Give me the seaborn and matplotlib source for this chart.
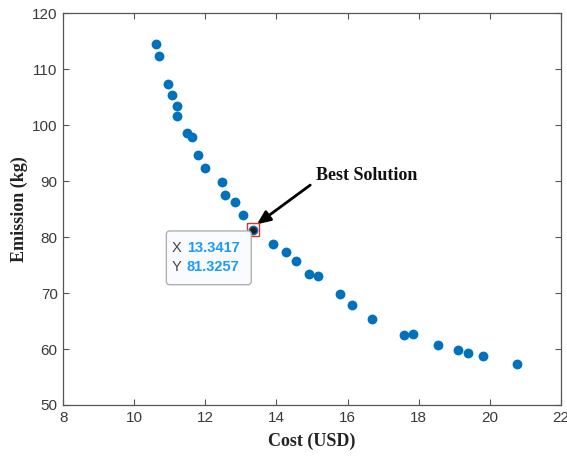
import matplotlib
matplotlib.use("Agg")
import matplotlib.pyplot as plt
import seaborn as sns
import pandas as pd
from matplotlib.patches import FancyBboxPatch

cost = [10.61, 10.70, 10.96, 11.07, 11.19, 11.19, 11.47, 11.63, 11.79, 11.99,
        12.47, 12.56, 12.82, 13.05, 13.3417, 13.91, 14.26, 14.55, 14.91, 15.17,
        15.78, 16.12, 16.68, 17.58, 17.84, 18.54, 19.12, 19.39, 19.80, 20.76]
emission = [114.6, 112.4, 107.4, 105.4, 103.5, 101.6, 98.6, 97.9, 94.7, 92.3,
            89.8, 87.6, 86.3, 83.9, 81.3257, 78.75, 77.3, 75.8, 73.45, 73.1,
            69.75, 67.9, 65.4, 62.55, 62.7, 60.7, 59.9, 59.3, 58.7, 57.4]
best_cost = [13.3417]
best_emission = [81.3257]
x_ticks = [8, 10, 12, 14, 16, 18, 20, 22]
y_ticks = [50, 60, 70, 80, 90, 100, 110, 120]

sns.set_style("white")
plt.rcParams['font.family'] = ['Liberation Sans', 'DejaVu Sans']

df = pd.DataFrame({"Cost": cost, "Emission": emission})
best = pd.DataFrame({"Cost": best_cost, "Emission": best_emission})

fig = plt.figure(figsize=(5.67, 4.57), dpi=100)
ax = fig.add_axes([0.1116, 0.1138, 0.8774, 0.8571])

sns.scatterplot(data=df, x="Cost", y="Emission", ax=ax, color="#0072BD",
                s=50, edgecolor="#0072BD", linewidth=0, zorder=3)
sns.scatterplot(data=best, x="Cost", y="Emission", ax=ax, color="#202020",
                s=24, edgecolor="#202020", linewidth=0, zorder=5)
sns.scatterplot(data=best, x="Cost", y="Emission", ax=ax, marker="s",
                s=80, facecolor="none", edgecolor="#E03030", linewidth=1.0, zorder=4)

ax.set_xlim(8, 22)
ax.set_ylim(50, 120)
ax.set_xticks(x_ticks)
ax.set_yticks(y_ticks)
ax.tick_params(direction="in", length=4, width=0.8, colors="#555555",
               labelcolor="#3a3a3a", labelsize=11, top=True, right=True,
               bottom=True, left=True, pad=4)
for sp in ax.spines.values():
    sp.set_visible(True)
    sp.set_color("#555555")
    sp.set_linewidth(0.9)

ax.set_xlabel("Cost (USD)", family=["Liberation Serif", "DejaVu Serif"],
              fontweight="bold", fontsize=13, color="#222222", labelpad=6)
ax.set_ylabel("Emission (kg)", family=["Liberation Serif", "DejaVu Serif"],
              fontweight="bold", fontsize=13, color="#222222", labelpad=3)

# annotation
ax.annotate("", xy=(13.45, 82.3), xytext=(14.95, 89.3),
            arrowprops=dict(arrowstyle="-|>,head_length=0.8,head_width=0.35",
                            color="black", lw=2.0, shrinkA=0, shrinkB=0))
ax.text(15.1, 91.1, "Best Solution", family=["Liberation Serif", "DejaVu Serif"],
        fontweight="bold", fontsize=13, color="#111111", va="center", ha="left")

# data tip box
box = FancyBboxPatch((10.90, 71.5), 2.39, 9.6, boxstyle="round,pad=0,rounding_size=0.1",
                     transform=ax.transData, facecolor="#FAFBFF", edgecolor="#B0B0B0",
                     linewidth=1.0, zorder=6, mutation_aspect=6.35)
ax.add_patch(box)
ax.text(11.06, 78.0, "X", fontsize=10.5, color="#444444", va="center", ha="left", zorder=7)
ax.text(11.48, 78.0, "13.3417", fontsize=10.5, color="#1A9BFF", fontweight="bold",
        va="center", ha="left", zorder=7)
ax.text(11.06, 74.6, "Y", fontsize=10.5, color="#444444", va="center", ha="left", zorder=7)
ax.text(11.48, 74.6, "81.3257", fontsize=10.5, color="#1A9BFF", fontweight="bold",
        va="center", ha="left", zorder=7)

fig.savefig("out.png", dpi=100)
